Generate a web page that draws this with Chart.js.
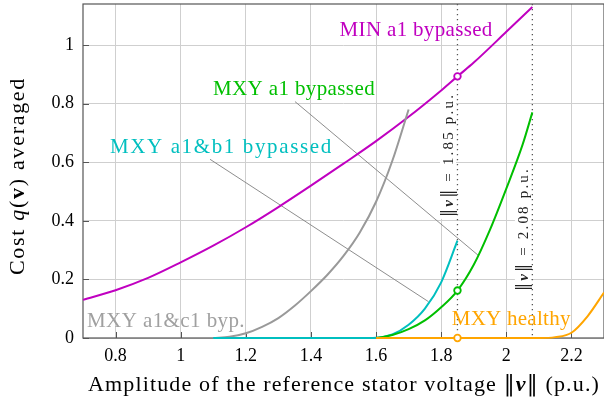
<!DOCTYPE html>
<html>
<head>
<meta charset="utf-8">
<script src="https://cdn.jsdelivr.net/npm/chart.js@4.4.1/dist/chart.umd.min.js"></script>
<style>
  html, body { margin: 0; padding: 0; background: #fff; }
  canvas { display: block; }
</style>
</head>
<body>
<canvas id="grafico" width="604" height="405"></canvas>
<script>
// curves
const minX = [0.7, 0.8, 0.9, 1.0, 1.1, 1.2, 1.3, 1.4, 1.5, 1.6, 1.7, 1.8, 1.85, 1.9, 2.0, 2.08];
const minY = [0.13, 0.163, 0.205, 0.258, 0.315, 0.378, 0.447, 0.52, 0.595, 0.672, 0.755, 0.845, 0.893, 0.94, 1.045, 1.13];

const a1X = [1.6, 1.65, 1.7, 1.75, 1.8, 1.85, 1.9, 1.95, 2.0, 2.05, 2.08];
const a1Y = [0, 0.01, 0.03, 0.06, 0.105, 0.162, 0.25, 0.37, 0.51, 0.66, 0.77];

const ab1X = [1.1, 1.2, 1.3, 1.4, 1.5, 1.55, 1.6, 1.65, 1.7, 1.75, 1.8, 1.85];
const ab1Y = [0, 0, 0, 0, 0, 0, 0.001, 0.012, 0.045, 0.1, 0.19, 0.332];

const ac1X = [1.1, 1.15, 1.2, 1.25, 1.3, 1.35, 1.4, 1.45, 1.5, 1.55, 1.6, 1.65, 1.7];
const ac1Y = [0, 0.004, 0.016, 0.038, 0.068, 0.11, 0.16, 0.215, 0.28, 0.36, 0.465, 0.605, 0.78];

const healthyX = [1.6, 1.8, 2.0, 2.1, 2.15, 2.2, 2.25, 2.3];
const healthyY = [0, 0, 0, 0, 0.003, 0.018, 0.075, 0.155];

// circles at ||v|| = 1.85
const markX = [1.85, 1.85, 1.85];
const markY = [0.893, 0.162, 0];

const xTicks = [0.8, 1, 1.2, 1.4, 1.6, 1.8, 2, 2.2];
const yTicks = [0, 0.2, 0.4, 0.6, 0.8, 1];

const refX = [1.85, 2.08];
const refText = ['\u2016\u03BD\u2016 = 1.85 p.u.', '\u2016\u03BD\u2016 = 2.08 p.u.'];

const labels = ['MIN a1 bypassed', 'MXY a1 bypassed', 'MXY a1&b1 bypassed', 'MXY a1&c1 byp.', 'MXY healthy'];

const cMin = '#c000c0', cA1 = '#00bf00', cAB1 = '#00bfbf', cAC1 = '#999999', cH = '#ffa500';
const serif = "'Liberation Serif', 'DejaVu Serif', serif";

const pts = (xs, ys) => xs.map((x, i) => ({x: x, y: ys[i]}));

// text annotations: center x / baseline y in data units
const notes = [
  {t: labels[0], x: 1.723, y: 1.032, w: 153, c: cMin},
  {t: labels[1], x: 1.348, y: 0.830, w: 162, c: cA1},
  {t: labels[2], x: 1.125, y: 0.631, w: 223, c: cAB1},
  {t: labels[3], x: 0.955, y: 0.039, w: 158, c: '#a0a0a0'},
  {t: labels[4], x: 2.015, y: 0.044, w: 119, c: cH}
];
const pointers = [
  [1.351, 0.807, 1.914, 0.282],
  [1.09, 0.61, 1.761, 0.124]
];
const refPos = [[1.821, 0.625], [2.051, 0.372]];

// draws mixed-font text centred on cx, stretched to width with letter spacing
function drawRich(ctx, parts, cx, cy, width) {
  let w = 0, n = 0;
  ctx.letterSpacing = '0px';
  parts.forEach(p => {
    ctx.font = p[1];
    p.w = ctx.measureText(p[0]).width;
    w += p.w;
    n += p[0].length;
  });
  const ls = Math.max(0, (width - w) / n);
  let x = cx - width / 2;
  ctx.textAlign = 'left';
  ctx.letterSpacing = ls + 'px';
  parts.forEach(p => {
    ctx.font = p[1];
    ctx.fillText(p[0], x, cy);
    x += p.w + ls * p[0].length;
  });
  ctx.letterSpacing = '0px';
}

const overlay = {
  id: 'overlay',
  beforeDatasetsDraw(chart) {
    const ctx = chart.ctx, a = chart.chartArea;
    const sx = chart.scales.x, sy = chart.scales.y;
    ctx.save();
    // frame
    ctx.strokeStyle = '#555';
    ctx.lineWidth = 1.2;
    ctx.strokeRect(a.left, a.top, a.right - a.left, a.bottom - a.top);
    // small inner ticks
    ctx.lineWidth = 1;
    ctx.beginPath();
    yTicks.forEach(v => {
      const y = Math.round(sy.getPixelForValue(v)) + 0.5;
      ctx.moveTo(a.left, y); ctx.lineTo(a.left + 6, y);
    });
    xTicks.forEach(v => {
      const x = Math.round(sx.getPixelForValue(v)) + 0.5;
      ctx.moveTo(x, a.bottom); ctx.lineTo(x, a.bottom - 6);
    });
    ctx.stroke();
    // dotted reference lines
    ctx.strokeStyle = '#555';
    ctx.lineWidth = 1.3;
    ctx.setLineDash([1.3, 3.7]);
    refX.forEach(v => {
      const x = sx.getPixelForValue(v);
      ctx.beginPath(); ctx.moveTo(x, a.top); ctx.lineTo(x, a.bottom); ctx.stroke();
    });
    ctx.setLineDash([]);
    // pointer lines
    ctx.strokeStyle = '#808080';
    ctx.lineWidth = 0.9;
    pointers.forEach(p => {
      ctx.beginPath();
      ctx.moveTo(sx.getPixelForValue(p[0]), sy.getPixelForValue(p[1]));
      ctx.lineTo(sx.getPixelForValue(p[2]), sy.getPixelForValue(p[3]));
      ctx.stroke();
    });
    // rotated reference labels on white
    refText.forEach((t, i) => {
      const x = sx.getPixelForValue(refPos[i][0]), y = sy.getPixelForValue(refPos[i][1]);
      ctx.save();
      ctx.translate(x, y);
      ctx.rotate(-Math.PI / 2);
      ctx.fillStyle = '#fff';
      ctx.fillRect(-64, -8, 128, 16);
      ctx.fillStyle = '#222';
      ctx.textBaseline = 'middle';
      drawRich(ctx, [
        ['\u2016', '16px DejaVu Serif'],
        ['\u03BD', 'bold italic 15px ' + serif],
        ['\u2016', '16px DejaVu Serif'],
        [t.slice(3), '15px ' + serif]
      ], 0, 1, 124);
      ctx.restore();
    });
    ctx.restore();
  },
  afterDraw(chart) {
    const ctx = chart.ctx;
    const sx = chart.scales.x, sy = chart.scales.y;
    ctx.save();
    ctx.textBaseline = 'alphabetic';
    notes.forEach(n => {
      ctx.fillStyle = n.c;
      drawRich(ctx, [[n.t, '21px ' + serif]], sx.getPixelForValue(n.x), sy.getPixelForValue(n.y), n.w);
    });
    // axis titles
    ctx.fillStyle = '#000';
    drawRich(ctx, [
      ['Amplitude of the reference stator voltage ', '22px ' + serif],
      ['\u2016', '22px DejaVu Serif'],
      ['\u03BD', 'bold italic 22px ' + serif],
      ['\u2016', '22px DejaVu Serif'],
      [' (p.u.)', '22px ' + serif]
    ], 344, 391, 512);
    ctx.save();
    ctx.translate(24, 176);
    ctx.rotate(-Math.PI / 2);
    drawRich(ctx, [
      ['Cost ', '22px ' + serif],
      ['q', 'italic 22px ' + serif],
      ['(', '22px ' + serif],
      ['v', 'bold 22px ' + serif],
      [') averaged', '22px ' + serif]
    ], 0, 0, 198);
    ctx.restore();
    ctx.restore();
  }
};

const line = (label, xs, ys, color, order) => ({
  label: label,
  data: pts(xs, ys),
  borderColor: color,
  borderWidth: 2,
  pointRadius: 0,
  fill: false,
  clip: false,
  cubicInterpolationMode: 'monotone',
  order: order
});

let miCanvas = document.getElementById('grafico').getContext('2d');
var chart = new Chart(miCanvas, {
  type: 'line',
  data: {
    datasets: [
      line(labels[0], minX, minY, cMin, 5),
      line(labels[1], a1X, a1Y, cA1, 2),
      line(labels[2], ab1X, ab1Y, cAB1, 3),
      line(labels[3], ac1X, ac1Y, cAC1, 4),
      line(labels[4], healthyX, healthyY, cH, 1),
      {
        label: 'markers',
        data: pts(markX, markY),
        showLine: false,
        clip: false,
        pointRadius: 3.3,
        pointBorderWidth: 1.8,
        pointBackgroundColor: '#fff',
        pointBorderColor: [cMin, cA1, cH],
        order: 0
      }
    ]
  },
  options: {
    responsive: false,
    animation: false,
    devicePixelRatio: 1,
    layout: { autoPadding: false, padding: { top: 4, left: 0, right: 0, bottom: 0 } },
    plugins: { legend: { display: false }, tooltip: { enabled: false } },
    scales: {
      x: {
        type: 'linear',
        min: 0.7,
        max: 2.3,
        afterBuildTicks: s => { s.ticks = xTicks.map(v => ({value: v})); },
        afterFit: s => { s.height = 67; s.paddingLeft = 0; s.paddingRight = 0; },
        grid: { color: '#cfcfcf', drawTicks: false },
        border: { display: false },
        ticks: { color: '#000', padding: 7, font: { family: serif, size: 18 }, callback: v => String(v) }
      },
      y: {
        min: 0,
        max: 1.14,
        afterBuildTicks: s => { s.ticks = yTicks.map(v => ({value: v})); },
        afterFit: s => { s.width = 83; s.paddingTop = 0; s.paddingBottom = 0; },
        grid: { color: '#cfcfcf', drawTicks: false },
        border: { display: false },
        ticks: { color: '#000', padding: 9, font: { family: serif, size: 18 }, callback: v => String(v) }
      }
    }
  },
  plugins: [overlay]
});
</script>
</body>
</html>
